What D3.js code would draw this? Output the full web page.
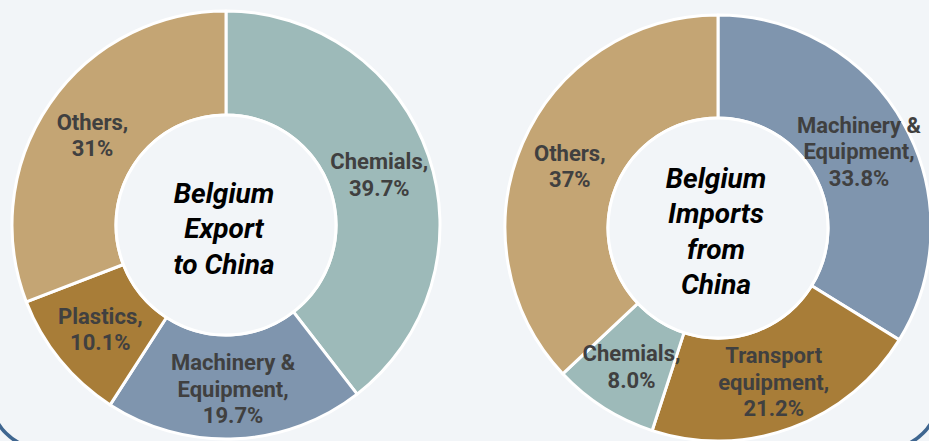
<!DOCTYPE html>
<html>
<head>
<meta charset="utf-8">
<script src="https://cdn.jsdelivr.net/npm/d3@7"></script>
<style>
  html, body { margin: 0; padding: 0; background: #f2f5f8; }
  svg { display: block; }
</style>
</head>
<body>
<svg id="chart" width="929" height="441"></svg>
<script>
// Belgium – China trade composition (share of total, %)
const exportCategories = [["Chemials,"], ["Machinery &", "Equipment,"], ["Plastics,"], ["Others,"]];
const exportValues = ["39.7", "19.7", "10.1", "31"];
const exportKeys = ["chem", "mach", "plast", "other"];
const exportTitle = ["Belgium", "Export", "to China"];

const importCategories = [["Machinery &", "Equipment,"], ["Transport", "equipment,"], ["Chemials,"], ["Others,"]];
const importValues = ["33.8", "21.2", "8.0", "37"];
const importKeys = ["mach", "plast", "chem", "other"];
const importTitle = ["Belgium", "Imports", "from", "China"];

const colour = d3.scaleOrdinal()
  .domain(["chem", "mach", "plast", "other"])
  .range(["#9dbab9", "#7f95ae", "#a87d38", "#c4a574"]);

const W = 929, H = 441;
const svg = d3.select("#chart");

svg.append("rect").attr("width", W).attr("height", H).attr("fill", "#f2f5f8");

// frame around the panel (its bottom corners fall inside the view)
svg.append("rect")
  .attr("x", -8.6).attr("y", -100)
  .attr("width", 946.2).attr("height", 548)
  .attr("rx", 50).attr("ry", 50)
  .attr("fill", "none")
  .attr("stroke", "#3f6690")
  .attr("stroke-width", 3.5);

function donut(cx, cy, rOuter, rInner, categories, valueTexts, keys, title) {
  const rows = valueTexts.map((t, i) => ({
    lines: categories[i],
    text: t + "%",
    value: +t,
    key: keys[i]
  }));

  const pie = d3.pie().sort(null).value(d => d.value);
  const arc = d3.arc().innerRadius(rInner).outerRadius(rOuter);

  const g = svg.append("g").attr("transform", `translate(${cx},${cy})`);
  const arcs = pie(rows);

  g.selectAll("path.slice")
    .data(arcs)
    .join("path")
    .attr("class", "slice")
    .attr("d", arc)
    .attr("fill", d => colour(d.data.key))
    .attr("stroke", "#ffffff")
    .attr("stroke-width", 3)
    .attr("stroke-linejoin", "round");

  // hole of the ring
  g.append("circle")
    .attr("r", rInner)
    .attr("fill", "#f2f5f8")
    .attr("stroke", "#ffffff")
    .attr("stroke-width", 3);

  const lh = 26.5;
  g.selectAll("text.lbl")
    .data(arcs)
    .join("text")
    .attr("class", "lbl")
    .attr("text-anchor", "middle")
    .attr("font-family", "Roboto, 'Liberation Sans', sans-serif")
    .attr("font-weight", 700)
    .attr("font-size", 22)
    .attr("fill", "#404040")
    .each(function (d) {
      const [x, y] = arc.centroid(d);
      const lines = d.data.lines.concat([d.data.text]);
      const y0 = y + 2 - (lines.length - 1) * lh / 2;
      d3.select(this).selectAll("tspan")
        .data(lines)
        .join("tspan")
        .attr("x", x)
        .attr("y", (l, i) => y0 + i * lh)
        .attr("dy", "0.36em")
        .text(l => l);
    });

  const tl = 35.5;
  const t0 = 3 - (title.length - 1) * tl / 2;
  g.append("text")
    .attr("text-anchor", "middle")
    .attr("font-family", "Roboto, 'Liberation Sans', sans-serif")
    .attr("font-weight", 700)
    .attr("font-style", "italic")
    .attr("font-size", 28)
    .attr("fill", "#000000")
    .selectAll("tspan")
    .data(title)
    .join("tspan")
    .attr("x", -2)
    .attr("y", (l, i) => t0 + i * tl)
    .attr("dy", "0.36em")
    .text(l => l);
}

donut(226, 225, 214, 110, exportCategories, exportValues, exportKeys, exportTitle);
donut(718, 228, 213, 110, importCategories, importValues, importKeys, importTitle);
</script>
</body>
</html>
